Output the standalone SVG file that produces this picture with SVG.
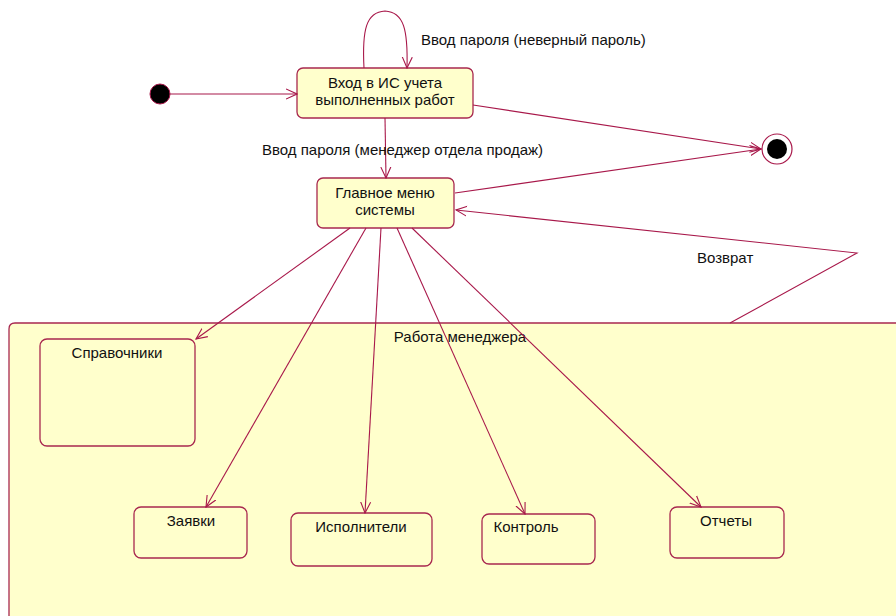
<svg xmlns="http://www.w3.org/2000/svg" width="896" height="616" viewBox="0 0 896 616">
<style>
.st{fill:#FFFFCC;stroke:#A8284F;stroke-width:1.3}
.ln{fill:none;stroke:#A8184A;stroke-width:1.1}
text{font-family:"Liberation Sans",Arial,sans-serif;font-size:15px;fill:#111}
.c{text-anchor:middle}
</style>
<defs>
<marker id="a" viewBox="0 0 12 12" refX="11" refY="6" markerWidth="12" markerHeight="12" markerUnits="userSpaceOnUse" orient="auto">
<path d="M0,1 L11,6 L0,11" fill="none" stroke="#A8184A" stroke-width="1.1"/>
</marker>
</defs>
<rect width="896" height="616" fill="#fff"/>
<g id="composite">
<path class="st" d="M9,616 L9,329 Q9,323 15,323 L900,323 L900,620"/>
<text class="c" x="460" y="342">Работа менеджера</text>
</g>
<g id="initial"><circle cx="160" cy="94" r="10" fill="#000" stroke="#A8184A" stroke-width="1"/></g>
<g id="final"><circle cx="777" cy="149" r="15" fill="#fff" stroke="#A8184A" stroke-width="1.2"/><circle cx="777" cy="149" r="10" fill="#000"/></g>
<g id="login"><rect class="st" x="297" y="68" width="176" height="50" rx="6"/><text class="c" x="385" y="88">Вход в ИС учета</text><text class="c" x="385" y="105">выполненных работ</text></g>
<g id="menu"><rect class="st" x="317" y="178" width="137" height="50" rx="6"/><text class="c" x="385" y="198">Главное меню</text><text class="c" x="385" y="215">системы</text></g>
<g id="spr"><rect class="st" x="40" y="339" width="155" height="107" rx="7"/><text class="c" x="117" y="358">Справочники</text></g>
<g id="zay"><rect class="st" x="134" y="507" width="113" height="51" rx="7"/><text class="c" x="191" y="526">Заявки</text></g>
<g id="isp"><rect class="st" x="291" y="513" width="141" height="53" rx="7"/><text class="c" x="361" y="532">Исполнители</text></g>
<g id="kon"><rect class="st" x="482" y="514" width="113" height="50" rx="7"/><text class="c" x="526" y="532">Контроль</text></g>
<g id="otch"><rect class="st" x="670" y="507" width="114" height="51" rx="7"/><text class="c" x="726" y="526">Отчеты</text></g>
<g id="connectors">
<line class="ln" x1="170" y1="94" x2="297" y2="94" marker-end="url(#a)"/>
<path class="ln" d="M364,68 C362,30 366,12 385,11 C404,12 408,30 407,68" marker-end="url(#a)"/>
<line class="ln" x1="385" y1="118" x2="386" y2="178" marker-end="url(#a)"/>
<line class="ln" x1="473" y1="105" x2="761" y2="149" marker-end="url(#a)"/>
<line class="ln" x1="455" y1="193" x2="761" y2="149" marker-end="url(#a)"/>
<polyline class="ln" points="730,323 857,253 456,210" marker-end="url(#a)"/>
<line class="ln" x1="350" y1="228" x2="196" y2="339" marker-end="url(#a)"/>
<line class="ln" x1="366" y1="228" x2="206" y2="507" marker-end="url(#a)"/>
<line class="ln" x1="381" y1="228" x2="365" y2="513" marker-end="url(#a)"/>
<line class="ln" x1="397" y1="228" x2="525" y2="514" marker-end="url(#a)"/>
<line class="ln" x1="412" y1="228" x2="701" y2="507" marker-end="url(#a)"/>
<text x="421" y="45">Ввод пароля (неверный пароль)</text>
<text x="262" y="155">Ввод пароля (менеджер отдела продаж)</text>
<text x="697" y="263">Возврат</text>
</g>
</svg>
